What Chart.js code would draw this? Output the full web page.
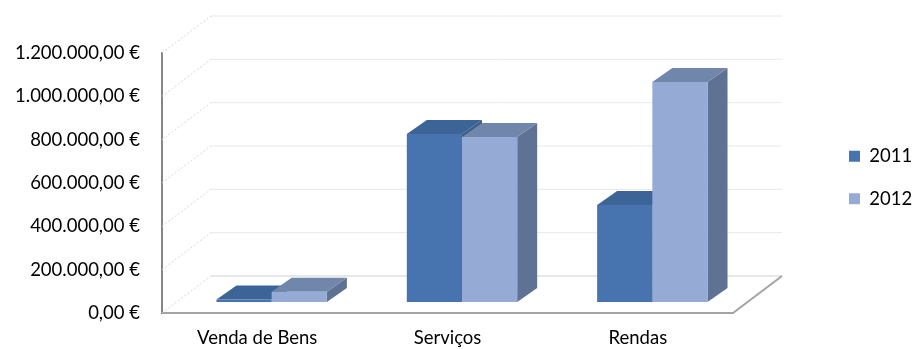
<!DOCTYPE html>
<html>
<head>
<meta charset="utf-8">
<script src="https://cdn.jsdelivr.net/npm/chart.js@4.4.1/dist/chart.umd.min.js"></script>
<style>
html, body { margin: 0; padding: 0; background: #fff; }
#wrap { width: 912px; height: 349px; position: relative; }
</style>
</head>
<body>
<div id="wrap"><canvas id="chart"></canvas></div>
<script>
// data
const categories = ['Venda de Bens', 'Serviços', 'Rendas'];
const seriesNames = ['2011', '2012'];
const values2011 = [12000, 775000, 448000];
const values2012 = [47000, 762000, 1015000];
const yTickValues = [0, 200000, 400000, 600000, 800000, 1000000, 1200000];

// 3D look: offsets of the back wall and of the bars' front plane
const WALL_X = 49, WALL_Y = -37;
const BAR_X = 14.5, BAR_Y = -11;
const BAR_DX = 20, BAR_DY = -14;
const faceColors = [
  { front: '#4773ae', top: '#3d6496', side: '#3a5c88' },
  { front: '#95abd6', top: '#7186ab', side: '#5f7293' }
];
const FONT = 'Lato';
const FSIZE = 18.5;

function euro(v) {
  const parts = v.toFixed(2).split('.');
  return parts[0].replace(/\B(?=(\d{3})+(?!\d))/g, '.') + ',' + parts[1] + ' €';
}

function line(ctx, x0, y0, x1, y1) {
  ctx.beginPath();
  ctx.moveTo(x0, y0);
  ctx.lineTo(x1, y1);
  ctx.stroke();
}

function poly(ctx, pts, color) {
  ctx.beginPath();
  ctx.moveTo(pts[0][0], pts[0][1]);
  for (let i = 1; i < pts.length; i++) ctx.lineTo(pts[i][0], pts[i][1]);
  ctx.closePath();
  ctx.fillStyle = color;
  ctx.fill();
}

const bars3d = {
  id: 'bars3d',
  beforeUpdate(chart) {
    const lg = chart.legend;
    if (lg && !lg._fixedFit) {
      const fit = lg.fit;
      lg.fit = function () { fit.call(this); this.width = 179; };
      lg._fixedFit = true;
    }
  },
  afterLayout(chart) {
    // park the legend where the original has it
    const lg = chart.legend;
    lg.left = 825; lg.right = 912; lg.width = 87;
    lg.top = 123; lg.bottom = 240; lg.height = 117;
  },
  beforeDatasetsDraw(chart) {
    const ctx = chart.ctx;
    const { left, right, bottom } = chart.chartArea;
    const ys = chart.scales.y;
    ctx.save();

    // side wall gridlines
    ctx.lineWidth = 1;
    ctx.strokeStyle = '#d6d6d6';
    ctx.setLineDash([2, 2]);
    yTickValues.forEach(v => {
      const py = ys.getPixelForValue(v);
      line(ctx, left, py, left + WALL_X, py + WALL_Y);
    });
    ctx.setLineDash([]);

    // back wall gridlines
    yTickValues.forEach(v => {
      const py = ys.getPixelForValue(v) + WALL_Y;
      ctx.strokeStyle = v === 0 ? '#cfcfcf' : '#e8e8e8';
      line(ctx, left + WALL_X, py, right + WALL_X, py);
    });

    // floor right edge
    ctx.strokeStyle = '#a3a3a3';
    ctx.lineWidth = 2;
    line(ctx, right, bottom, right + WALL_X, bottom + WALL_Y);

    // bars, category by category so that the 2012 bar covers the 2011 side
    const metas = chart.data.datasets.map((d, i) => chart.getDatasetMeta(i));
    categories.forEach((c, i) => {
      metas.forEach((meta, d) => {
        const bar = meta.data[i].getProps(['x', 'y', 'base', 'width'], true);
        const x0 = bar.x - bar.width / 2 + BAR_X;
        const x1 = bar.x + bar.width / 2 + BAR_X;
        const yt = bar.y + BAR_Y;
        const yb = bar.base + BAR_Y;
        const col = faceColors[d];
        poly(ctx, [[x1, yt], [x1 + BAR_DX, yt + BAR_DY], [x1 + BAR_DX, yb + BAR_DY], [x1, yb]], col.side);
        poly(ctx, [[x0, yt], [x1, yt], [x1 + BAR_DX, yt + BAR_DY], [x0 + BAR_DX, yt + BAR_DY]], col.top);
        poly(ctx, [[x0, yt], [x1, yt], [x1, yb], [x0, yb]], col.front);
      });
    });

    ctx.restore();
    return false;
  }
};

const ctx = document.getElementById('chart').getContext('2d');
window.chart = new Chart(ctx, {
  type: 'bar',
  data: {
    labels: categories,
    datasets: [
      { label: seriesNames[0], data: values2011, backgroundColor: faceColors[0].front },
      { label: seriesNames[1], data: values2012, backgroundColor: faceColors[1].front }
    ]
  },
  options: {
    responsive: true,
    maintainAspectRatio: false,
    devicePixelRatio: 1,
    animation: false,
    categoryPercentage: 0.58,
    barPercentage: 1.0,
    layout: { padding: { top: 53, right: 0, bottom: 0, left: 0 } },
    scales: {
      x: {
        grid: { display: false, drawTicks: false },
        border: { display: true, color: '#a3a3a3', width: 2 },
        ticks: { color: '#000', padding: 14, font: { family: FONT, size: FSIZE } },
        afterFit(scale) { scale.height = 36; }
      },
      y: {
        min: 0,
        max: 1200000,
        grid: { display: false, drawTicks: false },
        border: { display: true, color: '#868686', width: 2 },
        afterBuildTicks(scale) { scale.ticks = yTickValues.map(v => ({ value: v })); },
        afterFit(scale) { scale.width = 162; },
        ticks: {
          color: '#000',
          padding: 22,
          font: { family: FONT, size: FSIZE },
          callback: v => euro(v)
        }
      }
    },
    plugins: {
      legend: {
        position: 'right',
        align: 'start',
        fullSize: false,
        labels: {
          boxWidth: 11,
          boxHeight: 11,
          padding: 24,
          color: '#000',
          font: { family: FONT, size: FSIZE }
        }
      },
      tooltip: { enabled: false }
    }
  },
  plugins: [bars3d]
});
</script>
</body>
</html>
